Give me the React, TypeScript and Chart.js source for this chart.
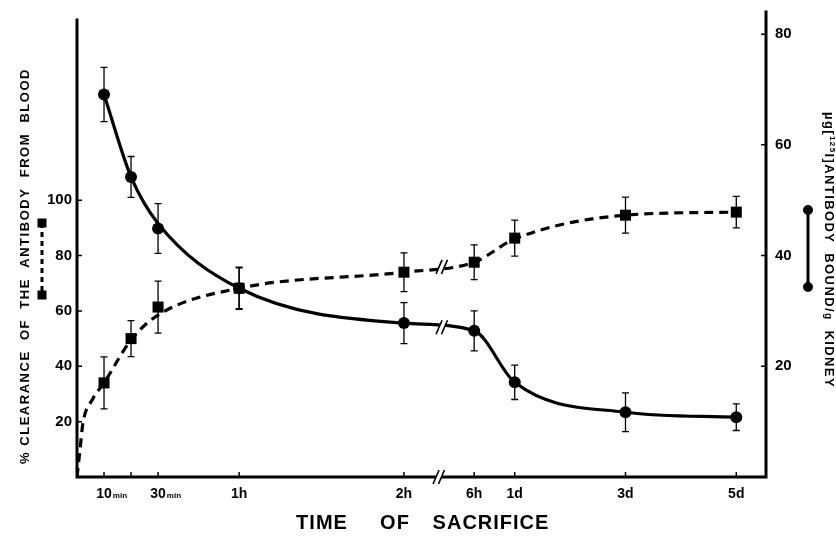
import React, { useEffect, useRef } from "react";
import { Chart, registerables } from "chart.js";

Chart.register(...registerables);

// ---- data ----
// positions of the sacrifice times along the (broken) time axis, in axis units
const timeNames = ["10min", "20min", "30min", "1h", "2h", "6h", "1d", "3d", "5d"];
const timePos = [1, 2, 3, 6, 12.1, 14.7, 16.2, 20.3, 24.4];
const tickMain = ["10", "", "30", "1h", "2h", "6h", "1d", "3d", "5d"];
const tickSmall = ["min", "", "min", "", "", "", "", "", ""];

// % clearance of the antibody from blood (left axis, squares, dashed)
const clearance = [34, 50, 61.4, 68.2, 74, 77.6, 86.3, 94.6, 95.7];
const clearanceErr = [9.4, 6.5, 9.4, 7.4, 7, 6.3, 6.5, 6.5, 5.7];
// fitted dashed curve
const clearanceCurveX = [0, 0.11, 0.22, 0.56, 1, 2, 3, 6, 12.1, 14.7, 16.2, 20.3, 24.4];
const clearanceCurveY = [0, 9.7, 19.5, 27.8, 34, 49.5, 58.5, 68.2, 74, 77.6, 86, 94.6, 95.7];

// µg antibody bound / g kidney (right axis, circles, solid)
const kidney = [69.1, 54.2, 44.9, 34.1, 27.8, 26.4, 17.1, 11.7, 10.8];
const kidneyErr = [4.9, 3.7, 4.5, 3.8, 3.7, 3.6, 3.1, 3.5, 2.4];
const kidneyCurveY = [69.1, 54.2, 45.8, 34.1, 27.8, 26.4, 17.1, 11.7, 10.8];

const leftTicks = [20, 40, 60, 80, 100];
const rightTicks = [20, 40, 60, 80];
const axisBreakAt = 13.5;

const FONT = '"Liberation Sans", Arial, Helvetica, sans-serif';

function drawBreak(ctx: CanvasRenderingContext2D, x: number, y: number) {
  ctx.save();
  ctx.lineCap = "butt";
  ctx.setLineDash([]);
  ctx.strokeStyle = "#fff";
  ctx.lineWidth = 5;
  ctx.beginPath();
  ctx.moveTo(x - 3, y + 7);
  ctx.lineTo(x + 3, y - 7);
  ctx.stroke();
  ctx.strokeStyle = "#000";
  ctx.lineWidth = 1.6;
  for (const dx of [-2.7, 2.7]) {
    ctx.beginPath();
    ctx.moveTo(x + dx - 3, y + 7);
    ctx.lineTo(x + dx + 3, y - 7);
    ctx.stroke();
  }
  ctx.restore();
}

const overlay = {
  id: "overlay",
  afterDatasetsDraw(chart: any) {
    const ctx: CanvasRenderingContext2D = chart.ctx;
    const xs = chart.scales.x;
    const yL = chart.scales.yL;
    const yR = chart.scales.yR;
    ctx.save();
    ctx.strokeStyle = "#000";
    ctx.lineWidth = 1.3;
    ctx.setLineDash([]);
    const bar = (x: number, y1: number, y2: number) => {
      ctx.beginPath();
      ctx.moveTo(x, y1);
      ctx.lineTo(x, y2);
      ctx.moveTo(x - 3.5, y1);
      ctx.lineTo(x + 3.5, y1);
      ctx.moveTo(x - 3.5, y2);
      ctx.lineTo(x + 3.5, y2);
      ctx.stroke();
    };
    timePos.forEach((t, i) => {
      const x = xs.getPixelForValue(t);
      bar(x, yL.getPixelForValue(clearance[i] + clearanceErr[i]), yL.getPixelForValue(clearance[i] - clearanceErr[i]));
      bar(x, yR.getPixelForValue(kidney[i] + kidneyErr[i]), yR.getPixelForValue(kidney[i] - kidneyErr[i]));
    });
    ctx.restore();

    // breaks on the curves between 2h and 6h
    const i2 = 4, i6 = 5;
    const f = (axisBreakAt - timePos[i2]) / (timePos[i6] - timePos[i2]);
    const bx = xs.getPixelForValue(axisBreakAt);
    const cIdx2 = clearanceCurveX.indexOf(timePos[i2]);
    const cv = clearanceCurveY[cIdx2] + f * (clearanceCurveY[cIdx2 + 1] - clearanceCurveY[cIdx2]);
    const kv = kidneyCurveY[i2] + f * (kidneyCurveY[i6] - kidneyCurveY[i2]);
    drawBreak(ctx, bx, yL.getPixelForValue(cv));
    drawBreak(ctx, bx, yR.getPixelForValue(kv));
  },
  afterDraw(chart: any) {
    const ctx: CanvasRenderingContext2D = chart.ctx;
    const xs = chart.scales.x;
    const yL = chart.scales.yL;
    const yR = chart.scales.yR;
    const a = chart.chartArea;
    ctx.save();
    ctx.strokeStyle = "#000";
    ctx.fillStyle = "#000";
    ctx.setLineDash([]);
    // axis lines
    ctx.lineWidth = 3;
    ctx.lineCap = "square";
    ctx.beginPath();
    ctx.moveTo(a.left, a.top + 8);
    ctx.lineTo(a.left, a.bottom);
    ctx.lineTo(a.right, a.bottom);
    ctx.lineTo(a.right, a.top);
    ctx.stroke();
    // tick marks
    ctx.lineWidth = 1.5;
    ctx.lineCap = "butt";
    ctx.beginPath();
    timePos.forEach((t) => {
      const x = xs.getPixelForValue(t);
      ctx.moveTo(x, a.bottom);
      ctx.lineTo(x, a.bottom - 5);
    });
    leftTicks.forEach((v) => {
      const y = yL.getPixelForValue(v);
      ctx.moveTo(a.left, y);
      ctx.lineTo(a.left + 5, y);
    });
    rightTicks.forEach((v) => {
      const y = yR.getPixelForValue(v);
      ctx.moveTo(a.right, y);
      ctx.lineTo(a.right - 5, y);
    });
    ctx.stroke();
    drawBreak(ctx, xs.getPixelForValue(axisBreakAt) - 3, a.bottom);

    // x tick labels
    ctx.textBaseline = "alphabetic";
    timePos.forEach((t, i) => {
      if (!tickMain[i]) return;
      const x = xs.getPixelForValue(t);
      ctx.font = `bold 14px ${FONT}`;
      ctx.textAlign = "center";
      ctx.fillText(tickMain[i], x, a.bottom + 21);
      if (tickSmall[i]) {
        const w = ctx.measureText(tickMain[i]).width;
        ctx.font = `bold 8px ${FONT}`;
        ctx.textAlign = "left";
        ctx.fillText(tickSmall[i], x + w / 2 + 1, a.bottom + 21);
      }
    });

    // x title
    ctx.font = `bold 20px ${FONT}`;
    ctx.textAlign = "center";
    ctx.textBaseline = "middle";
    (ctx as any).letterSpacing = "1px";
    ctx.fillText("TIME", 322, 523);
    ctx.fillText("OF", 395, 523);
    ctx.fillText("SACRIFICE", 491, 523);

    // left title
    ctx.save();
    ctx.translate(25, 266);
    ctx.rotate(-Math.PI / 2);
    ctx.font = `bold 13px ${FONT}`;
    (ctx as any).letterSpacing = "0px";
    const lt = "% CLEARANCE  OF  THE  ANTIBODY  FROM  BLOOD";
    const lw = ctx.measureText(lt).width;
    const ls = (396 - lw) / lt.length;
    (ctx as any).letterSpacing = `${ls}px`;
    ctx.textAlign = "left";
    ctx.fillText(lt, -198, 0);
    ctx.restore();

    // right title (reads top to bottom)
    ctx.save();
    ctx.translate(829, 112);
    ctx.rotate(Math.PI / 2);
    ctx.textAlign = "left";
    ctx.textBaseline = "middle";
    const segs: [string, string, number][] = [
      ["µg", `bold 13px ${FONT}`, 0],
      ["[", `bold 13px ${FONT}`, 0],
      ["125", `bold 8px ${FONT}`, -3],
      ["I]ANTIBODY  BOUND/", `bold 13px ${FONT}`, 0],
      ["g", `bold 10px ${FONT}`, 1],
      ["  KIDNEY", `bold 13px ${FONT}`, 0],
    ];
    (ctx as any).letterSpacing = "0px";
    let nat = 0;
    let nChars = 0;
    segs.forEach(([s, f]) => {
      ctx.font = f;
      nat += ctx.measureText(s).width;
      nChars += s.length;
    });
    const rs = (276 - nat) / nChars;
    (ctx as any).letterSpacing = `${rs}px`;
    let px = 0;
    segs.forEach(([s, f, dy]) => {
      ctx.font = f;
      ctx.fillText(s, px, dy);
      px += ctx.measureText(s).width;
    });
    ctx.restore();
    (ctx as any).letterSpacing = "0px";

    // left legend (dashed with squares)
    ctx.lineWidth = 3;
    ctx.setLineDash([5, 4]);
    ctx.beginPath();
    ctx.moveTo(42, 223);
    ctx.lineTo(42, 295);
    ctx.stroke();
    ctx.setLineDash([]);
    ctx.fillRect(42 - 4.5, 223 - 4.5, 9, 9);
    ctx.fillRect(42 - 4.5, 295 - 4.5, 9, 9);

    // right legend (solid with circles)
    ctx.beginPath();
    ctx.moveTo(808, 210);
    ctx.lineTo(808, 287);
    ctx.stroke();
    ctx.beginPath();
    ctx.arc(808, 210, 5, 0, Math.PI * 2);
    ctx.arc(808, 287, 5, 0, Math.PI * 2);
    ctx.fill();
    ctx.restore();
  },
};

export default function App() {
  const ref = useRef<HTMLCanvasElement | null>(null);
  useEffect(() => {
    if (!ref.current) return;
    const chart = new Chart(ref.current, {
      type: "line",
      data: {
        datasets: [
          {
            label: "clearance curve",
            data: clearanceCurveX.map((x, i) => ({ x, y: clearanceCurveY[i] })),
            yAxisID: "yL",
            borderColor: "#000",
            borderWidth: 3.2,
            borderDash: [9, 6],
            pointRadius: 0,
            cubicInterpolationMode: "monotone",
            fill: false,
          },
          {
            label: "kidney curve",
            data: timePos.map((x, i) => ({ x, y: kidneyCurveY[i] })),
            yAxisID: "yR",
            borderColor: "#000",
            borderWidth: 3.2,
            pointRadius: 0,
            cubicInterpolationMode: "monotone",
            fill: false,
          },
          {
            label: "clearance",
            data: timePos.map((x, i) => ({ x, y: clearance[i] })),
            yAxisID: "yL",
            showLine: false,
            pointStyle: "rect",
            pointRadius: 7.8,
            pointBackgroundColor: "#000",
            pointBorderWidth: 0,
          },
          {
            label: "kidney",
            data: timePos.map((x, i) => ({ x, y: kidney[i] })),
            yAxisID: "yR",
            showLine: false,
            pointStyle: "circle",
            pointRadius: 6,
            pointBackgroundColor: "#000",
            pointBorderWidth: 0,
          },
        ],
      },
      options: {
        responsive: false,
        animation: false,
        events: [],
        layout: { padding: { left: 0, right: 0, top: 12, bottom: 63 } },
        plugins: { legend: { display: false }, tooltip: { enabled: false } },
        scales: {
          x: { type: "linear", min: 0, max: 25.5, display: false },
          yL: {
            type: "linear",
            position: "left",
            min: 0,
            max: 168,
            grid: { display: false, drawTicks: false },
            border: { display: false },
            afterFit: (s: any) => {
              s.width = 77;
              s.paddingTop = 0;
              s.paddingBottom = 0;
            },
            ticks: {
              stepSize: 20,
              padding: 5,
              color: "#000",
              font: { family: FONT, size: 15, weight: "bold" },
              callback: (v: any) => (leftTicks.includes(Number(v)) ? String(v) : ""),
            },
          },
          yR: {
            type: "linear",
            position: "right",
            min: 0,
            max: 84,
            grid: { display: false, drawTicks: false },
            border: { display: false },
            afterFit: (s: any) => {
              s.width = 70;
              s.paddingTop = 0;
              s.paddingBottom = 0;
            },
            ticks: {
              stepSize: 20,
              padding: 9,
              color: "#000",
              font: { family: FONT, size: 15, weight: "bold" },
              callback: (v: any) => (rightTicks.includes(Number(v)) ? String(v) : ""),
            },
          },
        },
      },
      plugins: [overlay],
    });
    return () => chart.destroy();
  }, []);
  return (
    <div style={{ position: "fixed", left: 0, top: 0, width: 836, height: 540, background: "#fff" }}>
      <canvas ref={ref} width={836} height={540} style={{ display: "block" }} />
    </div>
  );
}
